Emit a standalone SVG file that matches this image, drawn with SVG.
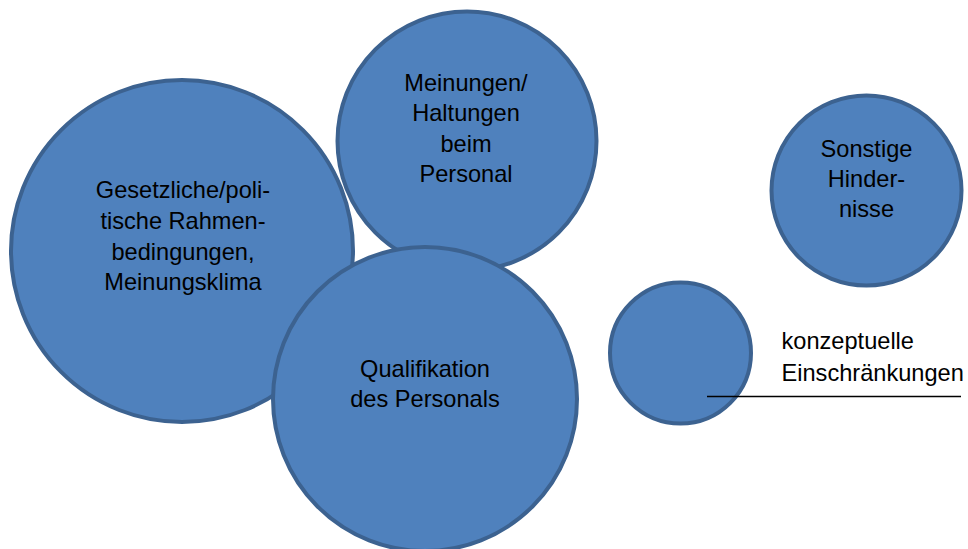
<svg xmlns="http://www.w3.org/2000/svg" width="968" height="549" viewBox="0 0 968 549">
<style>
.c{fill:#4f81bd;stroke:#3c6290;stroke-width:4}
.t{font-family:"Liberation Sans",Arial,sans-serif;font-size:23.6px;fill:#000;text-anchor:middle}
.l{font-family:"Liberation Sans",Arial,sans-serif;font-size:23.6px;fill:#000}
</style>
<rect width="968" height="549" fill="#fff"/>
<g id="gesetzliche">
<circle class="c" cx="182" cy="251" r="171"/>
<text class="t" x="183" y="198">Gesetzliche/poli-</text>
<text class="t" x="183" y="229">tische Rahmen-</text>
<text class="t" x="183" y="259.5">bedingungen,</text>
<text class="t" x="183" y="290">Meinungsklima</text>
</g>
<g id="meinungen">
<circle class="c" cx="467" cy="141" r="129.5"/>
<text class="t" x="466" y="91">Meinungen/</text>
<text class="t" x="466" y="121">Haltungen</text>
<text class="t" x="466" y="151.5">beim</text>
<text class="t" x="466" y="182">Personal</text>
</g>
<g id="qualifikation">
<circle class="c" cx="425" cy="399" r="152"/>
<text class="t" x="425" y="377">Qualifikation</text>
<text class="t" x="425" y="407">des Personals</text>
</g>
<g id="sonstige">
<circle class="c" cx="866.5" cy="190.5" r="95"/>
<text class="t" x="866.5" y="157">Sonstige</text>
<text class="t" x="866.5" y="187">Hinder-</text>
<text class="t" x="866.5" y="216.5">nisse</text>
</g>
<g id="konzeptuelle">
<circle class="c" cx="680.5" cy="353" r="70.5"/>
<text class="l" x="781.5" y="348.5">konzeptuelle</text>
<text class="l" x="781.5" y="380.5">Einschränkungen</text>
</g>
<g id="connectors">
<line x1="707" y1="396.5" x2="961" y2="396.5" stroke="#000" stroke-width="1.6"/>
</g>
</svg>
